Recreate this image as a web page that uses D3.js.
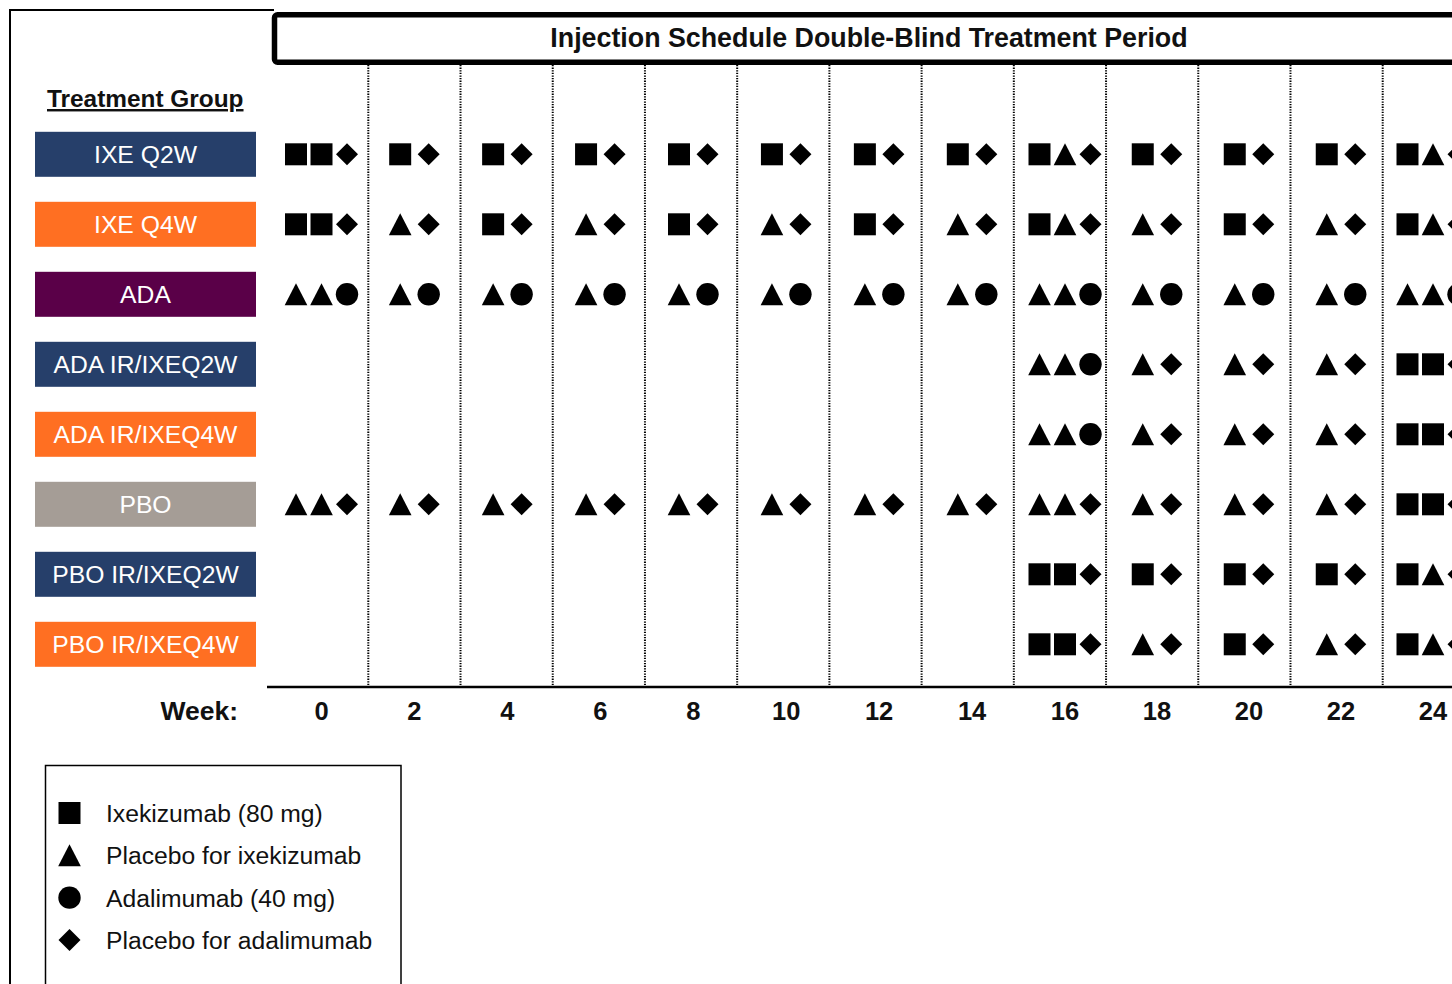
<!DOCTYPE html>
<html>
<head>
<meta charset="utf-8">
<script src="https://cdn.jsdelivr.net/npm/d3@7"></script>
<style>
  html, body { margin: 0; padding: 0; background: #fff; overflow: hidden; }
  svg { display: block; font-family: "Liberation Sans", Arial, sans-serif; }
</style>
</head>
<body>
<svg id="chart"></svg>
<script>
// weeks of the double-blind period
const weeks = [0, 2, 4, 6, 8, 10, 12, 14, 16, 18, 20, 22, 24]

const groups = ['IXE Q2W', 'IXE Q4W', 'ADA', 'ADA IR/IXEQ2W', 'ADA IR/IXEQ4W', 'PBO', 'PBO IR/IXEQ2W', 'PBO IR/IXEQ4W']

// S = ixekizumab, T = placebo for ixekizumab, C = adalimumab, D = placebo for adalimumab
const ixeQ2W    = ['SSD', 'SD', 'SD', 'SD', 'SD', 'SD', 'SD', 'SD', 'STD', 'SD', 'SD', 'SD', 'STD']
const ixeQ4W    = ['SSD', 'TD', 'SD', 'TD', 'SD', 'TD', 'SD', 'TD', 'STD', 'TD', 'SD', 'TD', 'STD']
const ada       = ['TTC', 'TC', 'TC', 'TC', 'TC', 'TC', 'TC', 'TC', 'TTC', 'TC', 'TC', 'TC', 'TTC']
const adaIrQ2W  = ['', '', '', '', '', '', '', '', 'TTC', 'TD', 'TD', 'TD', 'SSD']
const adaIrQ4W  = ['', '', '', '', '', '', '', '', 'TTC', 'TD', 'TD', 'TD', 'SSD']
const pbo       = ['TTD', 'TD', 'TD', 'TD', 'TD', 'TD', 'TD', 'TD', 'TTD', 'TD', 'TD', 'TD', 'SSD']
const pboIrQ2W  = ['', '', '', '', '', '', '', '', 'SSD', 'SD', 'SD', 'SD', 'STD']
const pboIrQ4W  = ['', '', '', '', '', '', '', '', 'SSD', 'TD', 'SD', 'TD', 'STD']
const schedule = [ixeQ2W, ixeQ4W, ada, adaIrQ2W, adaIrQ4W, pbo, pboIrQ2W, pboIrQ4W]

const legendCodes = ['S', 'T', 'C', 'D']
const legendLabels = ['Ixekizumab (80 mg)', 'Placebo for ixekizumab', 'Adalimumab (40 mg)', 'Placebo for adalimumab']

const title = 'Injection Schedule Double-Blind Treatment Period'

const W = 1452, H = 984
const svg = d3.select('#chart').attr('width', W).attr('height', H)

const color = d3.scaleOrdinal()
  .domain(groups)
  .range(['#263f6a', '#ff6f22', '#5a0048', '#263f6a', '#ff6f22', '#a59d96', '#263f6a', '#ff6f22'])

// centres of the week columns, and the dotted separators at the odd weeks
const x = d3.scaleLinear().domain([0, 16, 24]).range([321.5, 1065, 1433])
const grid = d3.scaleLinear().domain([1, 23]).range([368.3, 1382.7])
const y = d3.scalePoint().domain(groups).range([154.3, 644.3])

// symbol shapes, size = full width in px
const shapes = {
  S: { draw(ctx, s) { const r = s / 2; ctx.rect(-r, -r, s, s) } },
  T: { draw(ctx, s) { const r = s / 2; ctx.moveTo(0, -r); ctx.lineTo(r * 1.03, r); ctx.lineTo(-r * 1.03, r); ctx.closePath() } },
  C: { draw(ctx, s) { const r = s / 2 + 0.2; ctx.moveTo(r, 0); ctx.arc(0, 0, r, 0, 2 * Math.PI) } },
  D: { draw(ctx, s) { const r = s / 2; ctx.moveTo(0, -r); ctx.lineTo(r, 0); ctx.lineTo(0, r); ctx.lineTo(-r, 0); ctx.closePath() } }
}
const symbol = d3.symbol().size(22)

// outer frame
svg.append('path')
  .attr('d', 'M10,984V10H274')
  .attr('fill', 'none')
  .attr('stroke', '#000')
  .attr('stroke-width', 2)

// header box
svg.append('rect')
  .attr('x', 274.5).attr('y', 14.8)
  .attr('width', 1300).attr('height', 47.5)
  .attr('rx', 3)
  .attr('fill', '#fff')
  .attr('stroke', '#000')
  .attr('stroke-width', 5.5)

svg.append('text')
  .attr('x', 869).attr('y', 47)
  .attr('text-anchor', 'middle')
  .attr('font-weight', 'bold')
  .attr('font-size', 26.8)
  .attr('fill', '#111')
  .text(title)

// dotted week separators
svg.append('g')
  .selectAll('line')
  .data(d3.range(1, 24, 2))
  .join('line')
  .attr('x1', d => grid(d)).attr('x2', d => grid(d))
  .attr('y1', 65).attr('y2', 686)
  .attr('stroke', '#000')
  .attr('stroke-width', 2)
  .attr('stroke-dasharray', '1.3 1.3')

// week axis
svg.append('line')
  .attr('x1', 267).attr('x2', W)
  .attr('y1', 687).attr('y2', 687)
  .attr('stroke', '#000')
  .attr('stroke-width', 2.5)

svg.append('text')
  .attr('x', 238).attr('y', 720)
  .attr('text-anchor', 'end')
  .attr('font-weight', 'bold')
  .attr('font-size', 26.5)
  .attr('fill', '#111')
  .text('Week:')

svg.append('g')
  .selectAll('text')
  .data(weeks)
  .join('text')
  .attr('x', d => x(d)).attr('y', 720)
  .attr('text-anchor', 'middle')
  .attr('font-weight', 'bold')
  .attr('font-size', 25.5)
  .attr('fill', '#111')
  .text(d => d)

// treatment group labels
svg.append('text')
  .attr('x', 47).attr('y', 107)
  .attr('font-weight', 'bold')
  .attr('font-size', 24.4)
  .attr('text-decoration', 'underline')
  .attr('fill', '#111')
  .text('Treatment Group')

const rows = svg.append('g')
  .selectAll('g')
  .data(groups)
  .join('g')
  .attr('transform', d => `translate(0, ${y(d)})`)

rows.append('rect')
  .attr('x', 35).attr('y', -22.5)
  .attr('width', 221).attr('height', 45)
  .attr('fill', d => color(d))

rows.append('text')
  .attr('x', 145.5).attr('y', 9)
  .attr('text-anchor', 'middle')
  .attr('font-size', 24.7)
  .attr('fill', '#fff')
  .text(d => d)

// injection symbols
const offsets = n => n === 3 ? [-25.5, 0, 25.5] : n === 2 ? [-14.25, 14.25] : [0]

const cells = []
schedule.forEach((row, j) => {
  row.forEach((codes, i) => {
    const off = offsets(codes.length)
    codes.split('').forEach((c, k) => {
      cells.push({ group: groups[j], week: weeks[i], code: c, dx: off[k] })
    })
  })
})

svg.append('g')
  .selectAll('path')
  .data(cells)
  .join('path')
  .attr('transform', d => `translate(${x(d.week) + d.dx}, ${y(d.group)})`)
  .attr('d', d => symbol.type(shapes[d.code])())
  .attr('fill', '#000')

// legend
const legend = svg.append('g')
legend.append('rect')
  .attr('x', 45.5).attr('y', 765.5)
  .attr('width', 355.5).attr('height', 260)
  .attr('fill', 'none')
  .attr('stroke', '#000')
  .attr('stroke-width', 1.5)

const ly = d3.scalePoint().domain(legendCodes).range([813, 940])
const items = legend.selectAll('g.item')
  .data(legendCodes)
  .join('g')
  .attr('class', 'item')
  .attr('transform', d => `translate(0, ${ly(d)})`)

items.append('path')
  .attr('transform', 'translate(69.5, 0)')
  .attr('d', d => symbol.type(shapes[d])())
  .attr('fill', '#000')

items.append('text')
  .attr('x', 106).attr('y', 9)
  .attr('font-size', 24.7)
  .attr('fill', '#111')
  .text((d, i) => legendLabels[i])
</script>
</body>
</html>
